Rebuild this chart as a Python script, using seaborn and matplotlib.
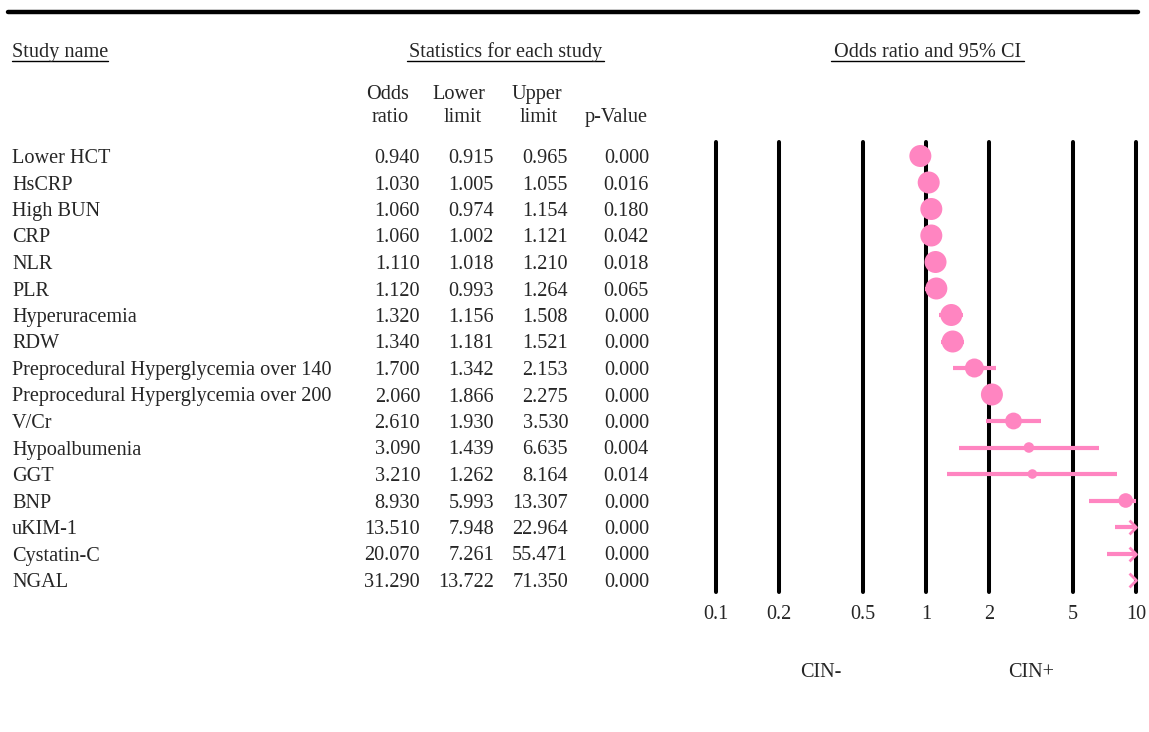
import numpy as np
import pandas as pd
import matplotlib
matplotlib.use("Agg")
import matplotlib.pyplot as plt
from matplotlib.lines import Line2D
from matplotlib.path import Path
from matplotlib.transforms import blended_transform_factory
import seaborn as sns

# ---- data ----
studies = ["Lower HCT", "HsCRP", "High BUN", "CRP", "NLR", "PLR", "Hyperuracemia",
           "RDW", "Preprocedural Hyperglycemia over 140",
           "Preprocedural Hyperglycemia over 200", "V/Cr", "Hypoalbumenia", "GGT",
           "BNP", "uKIM-1", "Cystatin-C", "NGAL"]
odds_ratio = [0.940, 1.030, 1.060, 1.060, 1.110, 1.120, 1.320, 1.340, 1.700,
              2.060, 2.610, 3.090, 3.210, 8.930, 13.510, 20.070, 31.290]
lower_limit = [0.915, 1.005, 0.974, 1.002, 1.018, 0.993, 1.156, 1.181, 1.342,
               1.866, 1.930, 1.439, 1.262, 5.993, 7.948, 7.261, 13.722]
upper_limit = [0.965, 1.055, 1.154, 1.121, 1.210, 1.264, 1.508, 1.521, 2.153,
               2.275, 3.530, 6.635, 8.164, 13.307, 22.964, 55.471, 71.350]
p_value = [0.000, 0.016, 0.180, 0.042, 0.018, 0.065, 0.000, 0.000, 0.000,
           0.000, 0.000, 0.004, 0.014, 0.000, 0.000, 0.000, 0.000]
x_ticks = [0.1, 0.2, 0.5, 1, 2, 5, 10]

df = pd.DataFrame({"study": studies, "or": odds_ratio, "lo": lower_limit,
                   "hi": upper_limit, "p": p_value})
df["row"] = np.arange(len(df))

# Marker area follows the study weight (from the CI width), capped at a maximum
se = (np.log(df["hi"]) - np.log(df["lo"])) / 3.92
radius_px = np.minimum(11.0, 3.3 / np.sqrt(se))
df["area"] = (2 * radius_px * 0.72) ** 2

XMIN, XMAX = 0.1, 10
PINK = "#ff85c1"

sns.set_style("white")
plt.rcParams["font.family"] = ["Liberation Serif", "DejaVu Serif"]
FS = 14.6

W, H = 1149, 732
fig = plt.figure(figsize=(W / 100, H / 100), dpi=100)

def fx(px):
    return px / W

def fy(py):
    return 1 - py / H

# forest plot axes
ROW0, ROWSTEP = 156.0, 26.5
ax = fig.add_axes([fx(716), fy(592), fx(1136) - fx(716), (592 - 142) / H])
ax.set_xscale("log")
ax.set_xlim(XMIN, XMAX)
ax.set_ylim((592 - ROW0) / ROWSTEP, (142 - ROW0) / ROWSTEP)
ax.axis("off")

BASE = 7.0 / ROWSTEP  # baseline offset below the row centre

for t in x_ticks:
    ax.axvline(t, color="black", lw=2.9, zorder=1, clip_on=False)
    ax.text(t, (619 - ROW0) / ROWSTEP, f"{t:g}", ha="center", va="baseline",
            fontsize=FS, clip_on=False)

# confidence intervals
for _, r in df.iterrows():
    lo = max(r["lo"], XMIN)
    hi = min(r["hi"], XMAX)
    if lo < hi:
        ax.hlines(r["row"], lo, hi, color=PINK, lw=3.0, zorder=2)

# point estimates inside the axis range
inside = df[df["or"] <= XMAX]
amin, amax = inside["area"].min(), inside["area"].max()
sns.scatterplot(data=inside, x="or", y="row", size="area", sizes=(amin, amax),
                size_norm=(amin, amax), color=PINK, edgecolor="none",
                legend=False, ax=ax, zorder=3, clip_on=False)

# open chevrons for estimates beyond the right edge
chevron = Path([(-1, 1), (0, 0), (-1, -1)], [Path.MOVETO, Path.LINETO, Path.LINETO])
beyond = df[df["or"] > XMAX]
ax.plot([XMAX] * len(beyond), beyond["row"], linestyle="none", marker=chevron,
        markersize=10, markeredgecolor=PINK, markerfacecolor="none",
        markeredgewidth=2.0, clip_on=False, zorder=3)

ax.text(np.sqrt(XMIN * 1), (677 - ROW0) / ROWSTEP, "CIN-", ha="center", va="baseline",
        fontsize=FS, clip_on=False)
ax.text(np.sqrt(XMAX * 1), (677 - ROW0) / ROWSTEP, "CIN+", ha="center", va="baseline",
        fontsize=FS, clip_on=False)

# table columns aligned to the forest rows
tr = blended_transform_factory(fig.transFigure, ax.transData)
for _, r in df.iterrows():
    y = r["row"] + BASE
    fig.text(fx(12), y, r["study"], transform=tr, ha="left", va="baseline", fontsize=FS)
    fig.text(fx(420), y, f"{r['or']:.3f}", transform=tr, ha="right", va="baseline", fontsize=FS)
    fig.text(fx(494), y, f"{r['lo']:.3f}", transform=tr, ha="right", va="baseline", fontsize=FS)
    fig.text(fx(568), y, f"{r['hi']:.3f}", transform=tr, ha="right", va="baseline", fontsize=FS)
    fig.text(fx(649), y, f"{r['p']:.3f}", transform=tr, ha="right", va="baseline", fontsize=FS)

# column headers
def header(x, y, s):
    fig.text(fx(x), fy(y), s, ha="center", va="baseline", fontsize=FS)

header(388, 99, "Odds")
header(390, 122, "ratio")
header(459, 99, "Lower")
header(463, 122, "limit")
header(537, 99, "Upper")
header(539, 122, "limit")
header(616, 122, "p-Value")

# underlined section titles
fig.text(fx(12), fy(57), "Study name", ha="left", va="baseline", fontsize=FS)
fig.add_artist(Line2D([fx(12), fx(108)], [fy(61), fy(61)], color="black", lw=1.0))
header(505.5, 57, "Statistics for each study")
fig.add_artist(Line2D([fx(407), fx(604)], [fy(61), fy(61)], color="black", lw=1.0))
header(927.5, 57, "Odds ratio and 95% CI")
fig.add_artist(Line2D([fx(831), fx(1024)], [fy(61), fy(61)], color="black", lw=1.0))

# heavy rule across the top
fig.add_artist(Line2D([fx(8), fx(1138)], [fy(12), fy(12)], color="black", lw=3.2))

fig.savefig("out.png", dpi=100, facecolor="white")
